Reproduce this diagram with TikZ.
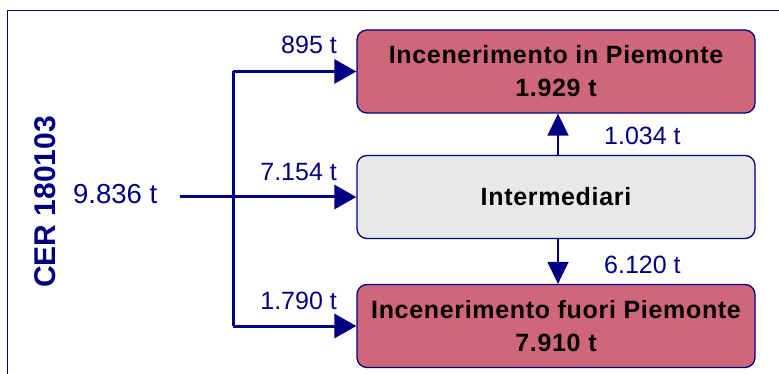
\documentclass[tikz,border=0pt]{standalone}
\usepackage{fontspec}
\setmainfont{Liberation Sans}
\usetikzlibrary{arrows.meta}
\definecolor{navy}{RGB}{0,0,128}
\definecolor{rose}{RGB}{208,102,122}
\definecolor{lgray}{RGB}{232,232,232}
\tikzset{
  box/.style={draw=navy, line width=1.3pt, rounded corners=10pt, minimum width=398pt, minimum height=83pt, inner sep=0pt, align=center, text=black, font=\fontsize{25}{33}\selectfont\bfseries\addfontfeature{LetterSpace=2.7}},
  flow/.style={draw=navy, line width=3pt, -{Triangle[length=22pt,width=24pt]}},
  flowline/.style={draw=navy, line width=3pt},
  vflow/.style={draw=navy, line width=1.5pt, -{Triangle[length=22pt,width=21pt]}},
  lab/.style={text=navy, inner sep=0pt, font=\fontsize{25}{30}\selectfont},
}
\begin{document}
\begin{tikzpicture}[x=1pt, y=-1pt]
\useasboundingbox (0,0) rectangle (779,374);
% frame
\draw[navy, line width=1pt] (7,380) -- (7,11) -- (785,11);
% boxes
\node[box, fill=rose] (top) at (556,71.5) {Incenerimento in Piemonte\\1.929 t};
\node[box, fill=lgray] (mid) at (556,197) {Intermediari};
\node[box, fill=rose] (bot) at (556,326) {Incenerimento fuori Piemonte\\7.910 t};
% source
\node[text=navy, inner sep=0pt, font=\fontsize{30}{34}\selectfont\bfseries, rotate=90] (cer) at (45.5,202) {CER 180103};
\node[lab, anchor=west, font=\fontsize{27.5}{30}\selectfont] (tot) at (73,194) {9.836 t};
\coordinate (src) at (180,197);
\coordinate (jt) at (233,71.5);
\coordinate (jb) at (233,326);
% connectors
\draw[flow] (src) -- (mid.west);
\draw[flowline] (jt) -- (jb);
\draw[flow] (jt) -- (top.west);
\draw[flow] (jb) -- (bot.west);
\draw[vflow] (mid.north -| 558,0) -- (top.south -| 558,0);
\draw[vflow] (mid.south -| 558,0) -- (bot.north -| 558,0);
% labels
\node[lab, anchor=east] (l1) at (337,45) {895 t};
\node[lab, anchor=east] (l2) at (337,172) {7.154 t};
\node[lab, anchor=east] (l3) at (337,301) {1.790 t};
\node[lab, anchor=west] (l4) at (604,135.5) {1.034 t};
\node[lab, anchor=west] (l5) at (604,264.5) {6.120 t};
\end{tikzpicture}
\end{document}
